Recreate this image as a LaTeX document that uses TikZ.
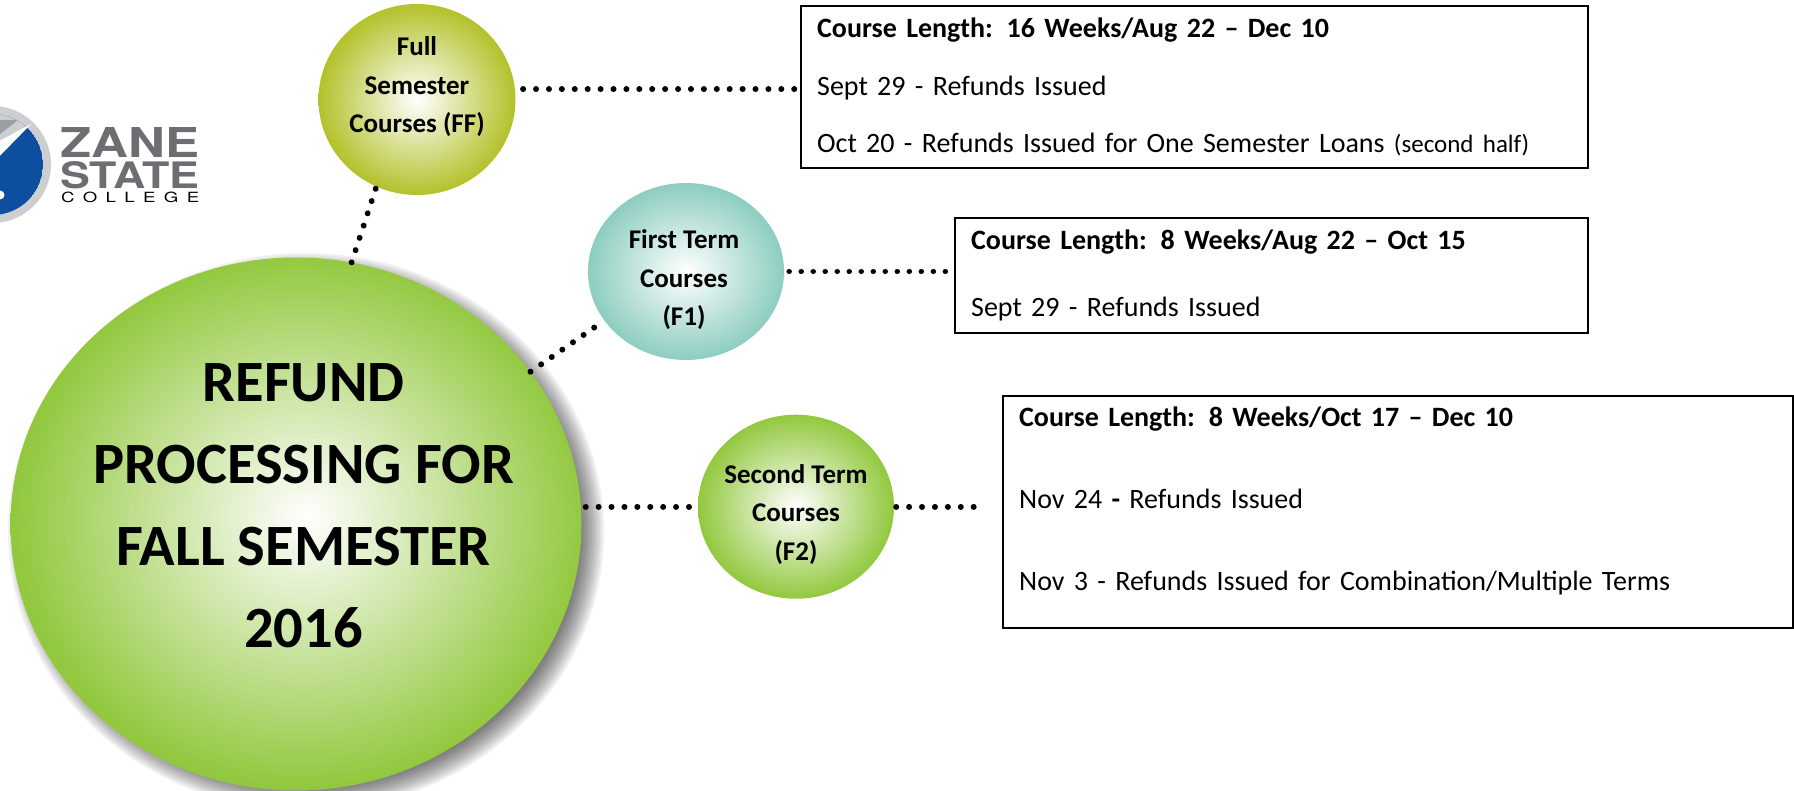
\documentclass[tikz,border=0pt]{standalone}
\usepackage{fontspec}
\setmainfont{Carlito}
\newfontfamily\logofont{TeX Gyre Heros}
\newfontfamily\logospaced[LetterSpace=45]{TeX Gyre Heros}
\usepackage{graphicx}
\usetikzlibrary{shapes.geometric, positioning}
\definecolor{mainGreen}{HTML}{92C83E}
\definecolor{fullOlive}{HTML}{B3C12A}
\definecolor{firstTeal}{HTML}{8DCDC0}
\definecolor{logoBlue}{HTML}{0B4F9E}
\definecolor{logoRing}{HTML}{CDCED0}
\definecolor{logoWedge}{HTML}{9C9EA1}
\definecolor{logoText}{HTML}{6D6E71}
\pgfdeclareradialshading{refundglow}{\pgfpoint{0.9bp}{0.7bp}}{color(0bp)=(white); color(25bp)=(mainGreen); color(50bp)=(mainGreen)}
\tikzset{
    bubble/.style={ellipse, inner sep=0pt, shade, shading=radial},
    bubbletext/.style={inner sep=0pt, align=center, font=\bfseries\fontsize{27}{38.5}\selectfont},
    infobox/.style={draw, line width=2.3pt, fill=white, anchor=north west, inner xsep=16pt, inner ysep=0pt, align=left},
    dotline/.style={line cap=round, line width=#1, dash pattern=on 0.01pt off 12.9pt},
    dotline/.default=6pt
}
\begin{document}
\begin{tikzpicture}[x=1pt, y=-1pt]
    \useasboundingbox (0,0) rectangle (1794,791);
    % Logo
    \fill[logoRing] (-7.5,164.5) circle (58.5);
    \begin{scope}
        \clip (-7.5,164.5) circle (50.5);
        \fill[logoBlue] (-7.5,164.5) circle (50.5);
        \fill[logoRing] (-10,100) -- (46,100) -- (31,124) -- (-10,148) -- cycle;
        \fill[logoWedge] (-10,120) -- (18,120) -- (-10,142) -- cycle;
    \end{scope}
    \fill[white] (31,124) -- (-10,146) -- (-10,166) -- cycle;
    \fill[white] (0,195) circle (4.5);
    \node[text=logoText, inner sep=0pt, anchor=north west] (zane) at (60,127) {\resizebox{139pt}{30pt}{\logofont\bfseries ZANE}};
    \node[text=logoText, inner sep=0pt, anchor=north west] (state) at (60,161) {\resizebox{139pt}{27pt}{\logofont\bfseries STATE}};
    \node[text=black, inner sep=0pt, anchor=north west] (college) at (61,192) {\resizebox{138pt}{10.5pt}{\logospaced COLLEGE}};
    % Ombra del cerchio grande
    \foreach \k in {0,...,13}
        \fill[black, opacity=0.055] (306,532) ellipse ({272+2*\k} and {253+2*\k});
    % Cerchi
    \node[bubble, shading=refundglow, minimum width=571pt, minimum height=533pt] (refund) at (296,524) {};
    \node[font=\bfseries\fontsize{58.5}{82}\selectfont, align=center, inner sep=0pt, xshift=7.5pt, yshift=18pt] (title) at (refund) {REFUND\\PROCESSING FOR\\FALL SEMESTER\\2016};
    \node[bubble, inner color=white, outer color=fullOlive, minimum width=197pt, minimum height=191pt] (full) at (417,99.5) {};
    \node[bubbletext, yshift=12.5pt] (fulltext) at (full) {Full\\Semester\\Courses (FF)};
    \node[bubble, inner color=white, outer color=firstTeal, minimum width=196pt, minimum height=177pt] (first) at (686,271.5) {};
    \node[bubbletext, xshift=-2pt, yshift=-8.5pt] (firsttext) at (first) {First Term\\Courses\\(F1)};
    \node[bubble, inner color=white, outer color=mainGreen, minimum width=196pt, minimum height=184pt] (second) at (796,506.7) {};
    \node[bubbletext, yshift=-7.5pt] (secondtext) at (second) {Second Term\\Courses\\(F2)};
    % Riquadri
    \node[infobox, minimum width=787pt, minimum height=162pt, text width=755pt, font=\fontsize{28}{57.5}\selectfont] (fullbox) at (800,5)
        {\textbf{Course Length: 16 Weeks/Aug 22 – Dec 10}\\Sept 29 - Refunds Issued\\Oct 20 - Refunds Issued for One Semester Loans {\fontsize{25}{25}\selectfont (second half)}};
    \node[infobox, minimum width=633pt, minimum height=115pt, text width=601pt, font=\fontsize{28}{66.7}\selectfont] (firstbox) at (954,217)
        {\textbf{Course Length: 8 Weeks/Aug 22 – Oct 15}\\Sept 29 - Refunds Issued};
    \node[infobox, minimum width=790pt, minimum height=232pt, text width=758pt, font=\fontsize{28}{82}\selectfont] (secondbox) at (1002,395)
        {\textbf{Course Length: 8 Weeks/Oct 17 – Dec 10}\\Nov 24 \textbf{-} Refunds Issued\\Nov 3 - Refunds Issued for Combination/Multiple Terms\rule[-26pt]{0pt}{26pt}};
    % Linee tratteggiate
    \draw[dotline] (refund.78) -- (full.245);
    \draw[dotline] (refund.33) -- (first.211);
    \draw[dotline, shorten <=4pt] (second.west -| refund.east) -- (second.west);
    \draw[dotline, shorten <=8pt, shorten >=4.5pt] (full.6) -- (full.6 -| fullbox.west);
    \draw[dotline=5.5pt, dash pattern=on 0.01pt off 12pt, shorten <=5pt, shorten >=7.5pt] (first.east) -- (first.east -| firstbox.west);
    \draw[dotline, shorten <=2pt, shorten >=26pt] (second.east) -- (second.east -| secondbox.west);
\end{tikzpicture}
\end{document}
